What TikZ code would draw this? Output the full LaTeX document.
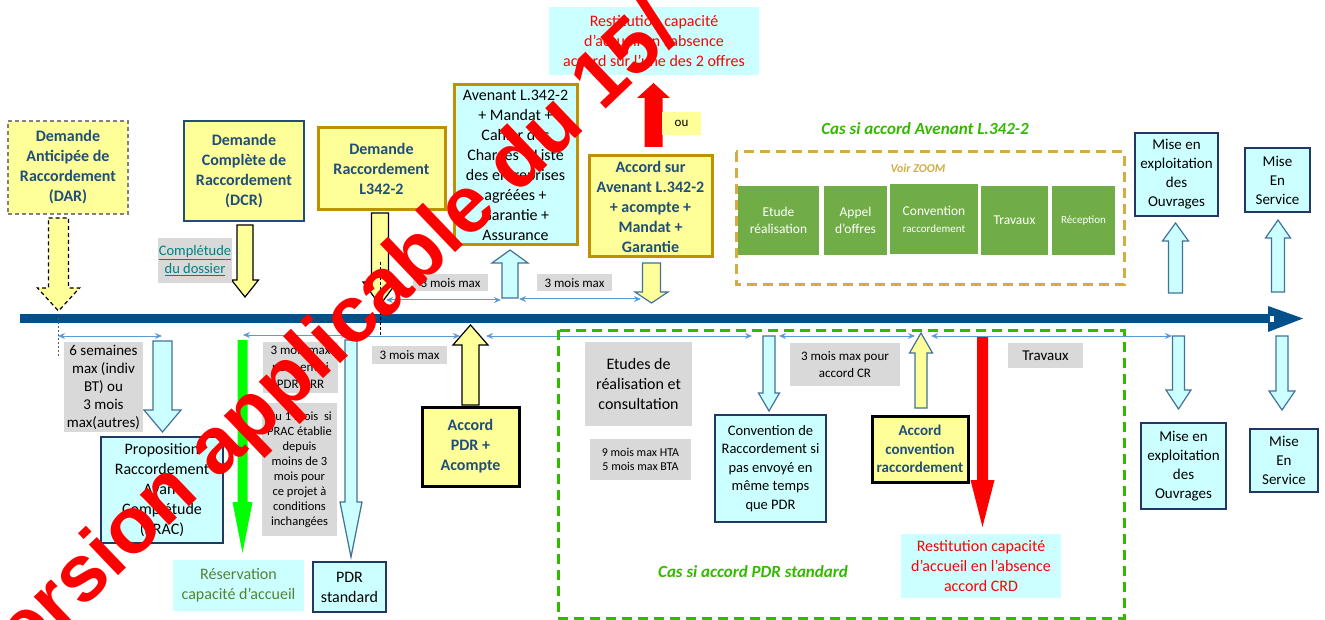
\documentclass[tikz,border=0pt]{standalone}
\usepackage{fontspec}
\setmainfont{Carlito}
\newfontfamily\wmfont{Liberation Sans}
\usetikzlibrary{arrows.meta}
\definecolor{axisblue}{RGB}{0,80,140}
\definecolor{yelfill}{RGB}{255,255,153}
\definecolor{cyanfill}{RGB}{204,255,255}
\definecolor{titleblue}{RGB}{31,78,121}
\definecolor{navy}{RGB}{31,56,100}
\definecolor{goldc}{RGB}{191,144,0}
\definecolor{goldd}{RGB}{212,172,64}
\definecolor{casgreen}{RGB}{51,186,0}
\definecolor{boxgreen}{RGB}{112,173,71}
\definecolor{graylab}{RGB}{217,217,217}
\definecolor{dimblue}{RGB}{91,155,213}
\definecolor{arrowblue}{RGB}{65,113,156}
\definecolor{tealc}{RGB}{0,128,128}
\definecolor{resgreen}{RGB}{84,130,53}
\definecolor{brightgreen}{RGB}{0,255,0}
\newcommand{\blockarr}[7]{\draw[#1] ({#2-#6},#3) -- ({#2+#6},#3) -- ({#2+#6},#4) -- ({#2+#7},#4) -- (#2,#5) -- ({#2-#7},#4) -- ({#2-#6},#4) -- cycle;}
\begin{document}
\begin{tikzpicture}[x=1pt,y=-1pt,
  fs/.style={font=\fontsize{#1}{18}\selectfont},
  base/.style={inner sep=0pt, align=center},
  ybox/.style={base, fill=yelfill, text=titleblue, font=\fontsize{16}{20}\selectfont\bfseries},
  cbox/.style={base, fill=cyanfill, draw=navy, line width=2.5pt},
  glabel/.style={base, fill=graylab},
  gbox/.style={base, fill=boxgreen, text=white, minimum height=69pt},
  dim/.style={draw=dimblue, line width=1pt, {Stealth[length=7pt,width=6pt]}-{Stealth[length=7pt,width=6pt]}},
  yarrow/.style={fill=yelfill, draw=black, line width=1.2pt},
  yarrowb/.style={fill=yelfill, draw=arrowblue, line width=1.2pt},
  carrow/.style={fill=cyanfill, draw=arrowblue, line width=1.2pt},
  redarrow/.style={fill=red, draw=none},
  grarrow/.style={fill=brightgreen, draw=none},
  cas/.style={text=casgreen, font=\fontsize{17}{20}\selectfont\bfseries\itshape}
]
\useasboundingbox (0,0) rectangle (1325,620);
\clip (0,0) rectangle (1325,620);
\fill[white] (0,0) rectangle (1325,620);

% axis
\fill[axisblue] (20,314) rectangle (1271,323);
\fill[axisblue] (1268,306) -- (1303,318.5) -- (1268,332) -- cycle;
\fill[white] (1270,316) rectangle (1274,322);

% ---------- top ----------
\node[ybox, draw=gray, dash pattern=on 4pt off 3pt, line width=1.3pt, minimum width=120pt, minimum height=93pt] (dar) at (68,167.5) {Demande\\Anticipée de\\Raccordement\\(DAR)};
\blockarr{yarrow, dash pattern=on 4pt off 3pt}{58.5}{218}{288}{311}{10}{21}
\draw[dash pattern=on 2pt off 2pt, gray!70!black, line width=0.8pt] (58,318) -- (58,357);

\node[ybox, draw=titleblue, line width=2.2pt, minimum width=120pt, minimum height=100pt] (dcr) at (244,171) {Demande\\Complète de\\Raccordement\\(DCR)};
\blockarr{yarrow}{245}{225}{280}{297}{8}{13.5}
\node[glabel, text=tealc, fs=14.5, minimum width=74pt, minimum height=45pt] (compl) at (195,260.5) {\underline{Complétude}\\\underline{du dossier}};

\node[ybox, draw=goldc, line width=3pt, minimum width=127pt, minimum height=82pt] (l342) at (381.5,169) {Demande\\Raccordement\\L342-2};
\blockarr{yarrow}{380}{213}{282}{305}{8.5}{17}
\draw[dash pattern=on 3pt off 2pt, line width=0.7pt] (380,262) -- (380,337);

\node[cbox, draw=goldc, line width=3pt, font=\fontsize{16}{20}\selectfont, minimum width=123pt, minimum height=160pt] (aven) at (515.5,165) {Avenant L.342-2\\+ Mandat +\\Cahier des\\Charges + Liste\\des entreprises\\agréées +\\Garantie +\\Assurance};
\blockarr{carrow}{510}{298}{263}{250}{8}{18}
\node[glabel, fs=13, minimum width=75pt, minimum height=17pt] (m1) at (450.5,283) {3 mois max};
\draw[dim] (386,300) -- (501,300);
\node[glabel, fs=13, minimum width=75pt, minimum height=17pt] (m2) at (574.5,283) {3 mois max};
\draw[dim] (519,299) -- (641,299);

\node[ybox, draw=goldc, line width=3pt, minimum width=123pt, minimum height=101pt] (accav) at (650.5,206.5) {Accord sur\\Avenant L.342-2\\+ acompte +\\Mandat +\\Garantie};
\blockarr{yarrowb}{651.5}{263}{292}{303}{9}{16.5}
\blockarr{redarrow}{653.5}{147}{98}{83}{9}{16.5}
\node[base, fill=yelfill, fs=13, minimum width=39pt, minimum height=23pt] (ou) at (681.5,123.5) {ou};
\node[base, fill=cyanfill, text=red, font=\fontsize{16}{20}\selectfont, minimum width=210pt, minimum height=68pt] (rest1) at (654,41) {Restitution capacité\\d’accueil en l’absence\\accord sur l’une des 2 offres};

\node[cas] (cas1) at (925,129) {Cas si accord Avenant L.342-2};
\draw[goldd, dash pattern=on 10pt off 6pt, line width=3pt] (736,152) rectangle (1124,285);
\node[text=goldd, font=\fontsize{12}{14}\selectfont\bfseries\itshape] (voir) at (918,168) {Voir ZOOM};
\node[gbox, font=\fontsize{13.5}{17}\selectfont, minimum width=81pt] (etu) at (778.5,220.5) {Etude\\réalisation};
\node[gbox, font=\fontsize{13.5}{17}\selectfont, minimum width=63pt] (app) at (855.5,220.5) {Appel\\d’offres};
\node[gbox, font=\fontsize{13.5}{17}\selectfont, minimum width=88pt, minimum height=70pt] (conv) at (934,219) {Convention\\{\fontsize{11}{17}\selectfont raccordement}};
\node[gbox, font=\fontsize{13.5}{17}\selectfont, minimum width=67pt] (trav) at (1014.5,220.5) {Travaux};
\node[gbox, font=\fontsize{11}{14}\selectfont, minimum width=63pt] (rec) at (1083.5,220.5) {Réception};

\node[cbox, font=\fontsize{15}{19}\selectfont, minimum width=83pt, minimum height=83pt] (mex1) at (1176.5,174.5) {Mise en\\exploitation\\des\\Ouvrages};
\blockarr{carrow}{1175.5}{293}{241}{223}{7}{13}
\node[cbox, font=\fontsize{15}{19}\selectfont, minimum width=65pt, minimum height=64pt] (mes1) at (1277.5,180) {Mise\\En\\Service};
\blockarr{carrow}{1278}{292}{238}{220}{6.5}{12.5}

% ---------- bottom ----------
\draw[dim] (58,336) -- (162,336);
\node[glabel, font=\fontsize{15}{18}\selectfont, minimum width=79pt, minimum height=90pt] (six) at (103.5,387) {6 semaines\\max (indiv\\BT) ou\\3 mois\\max(autres)};
\blockarr{carrow}{162.5}{341}{410}{432}{9.5}{18.5}
\node[cbox, font=\fontsize{16}{20}\selectfont, minimum width=122pt, minimum height=106pt] (prac) at (162,490) {Proposition\\Raccordement\\Avant\\Complétude\\(PRAC)};

\blockarr{grarrow}{242.5}{340}{502}{553}{5}{10}
\draw[dim] (243,335) -- (348,335);
\node[glabel, font=\fontsize{13}{17}\selectfont, minimum width=75pt, minimum height=51pt] (envoi) at (300.5,367.5) {3 mois max\\pour envoi\\PDR ORR};
\node[glabel, font=\fontsize{12.5}{15}\selectfont, minimum width=75pt, minimum height=133pt] (ou1) at (299.5,469.5) {Ou 1 mois~~si\\PRAC établie\\depuis\\moins de 3\\mois pour\\ce projet à\\conditions\\inchangées};
\node[base, fill=cyanfill, text=resgreen, font=\fontsize{16}{20}\selectfont, minimum width=131pt, minimum height=51pt] (resv) at (238.5,585.5) {Réservation\\capacité d’accueil};

\blockarr{carrow}{351}{340}{502}{557}{6}{11}
\node[cbox, font=\fontsize{16}{20}\selectfont, minimum width=73pt, minimum height=50pt] (pdr) at (349.5,587) {PDR\\standard};
\draw[dim] (353,336) -- (460,336);
\node[glabel, fs=13, minimum width=75pt, minimum height=18pt] (m3) at (409.5,355) {3 mois max};

\blockarr{yarrow}{470.5}{405}{345}{325}{8.5}{17.5}
\node[ybox, draw=black, line width=3pt, minimum width=97pt, minimum height=79pt] (accpdr) at (470.5,446.5) {Accord\\PDR +\\Acompte};
\draw[dim] (486,336) -- (752,336);

\draw[casgreen, dash pattern=on 10pt off 6pt, line width=3pt] (558,330) rectangle (1124,618);
\node[glabel, font=\fontsize{16}{20}\selectfont, minimum width=107pt, minimum height=84pt] (etud) at (638.5,384) {Etudes de\\réalisation et\\consultation};
\node[glabel, font=\fontsize{12}{14}\selectfont, minimum width=101pt, minimum height=41pt] (hta) at (640.5,459.5) {9 mois max HTA\\5 mois max BTA};
\blockarr{carrow}{769}{336}{393}{411}{6}{10.5}
\node[cbox, font=\fontsize{14.5}{18.5}\selectfont, minimum width=111pt, minimum height=107pt] (cvr) at (770.5,468.5) {Convention de\\Raccordement si\\pas envoyé en\\même temps\\que PDR};
\draw[dim] (779,336) -- (915,336);
\node[glabel, font=\fontsize{13}{17}\selectfont, minimum width=110pt, minimum height=43pt] (cr) at (845,364.5) {3 mois max pour\\accord CR};
\blockarr{yarrowb}{921}{408}{353}{333}{6}{11.5}
\node[ybox, draw=black, line width=3pt, font=\fontsize{15}{18.5}\selectfont\bfseries, minimum width=96pt, minimum height=66pt] (acccv) at (920,449) {Accord\\convention\\raccordement};
\draw[dim] (931,336) -- (1172,336);
\node[glabel, fs=15, minimum width=75pt, minimum height=25pt] (trx) at (1045.5,355.5) {Travaux};
\blockarr{redarrow}{982.5}{337}{480}{527}{5.5}{12}
\node[base, fill=cyanfill, text=red, font=\fontsize{16}{20}\selectfont, minimum width=160pt, minimum height=64pt] (rest2) at (981,566) {Restitution capacité\\d’accueil en l’absence\\accord CRD};
\node[cas] (cas2) at (753,572) {Cas si accord PDR standard};

\blockarr{carrow}{1178.5}{336}{390}{409}{6}{12.5}
\node[cbox, font=\fontsize{15}{19}\selectfont, minimum width=85pt, minimum height=86pt] (mex2) at (1183.5,466) {Mise en\\exploitation\\des\\Ouvrages};
\blockarr{carrow}{1282}{336}{391}{410}{6}{13}
\node[cbox, font=\fontsize{15}{19}\selectfont, minimum width=68pt, minimum height=63pt] (mes2) at (1284,460.5) {Mise\\En\\Service};

% watermark
\node[rotate=43.7, anchor=base west, inner sep=0pt, text=red, font=\wmfont\bfseries\fontsize{80}{96}\selectfont] (wm) at (-8,696) {Version applicable du 15/};
\end{tikzpicture}
\end{document}
